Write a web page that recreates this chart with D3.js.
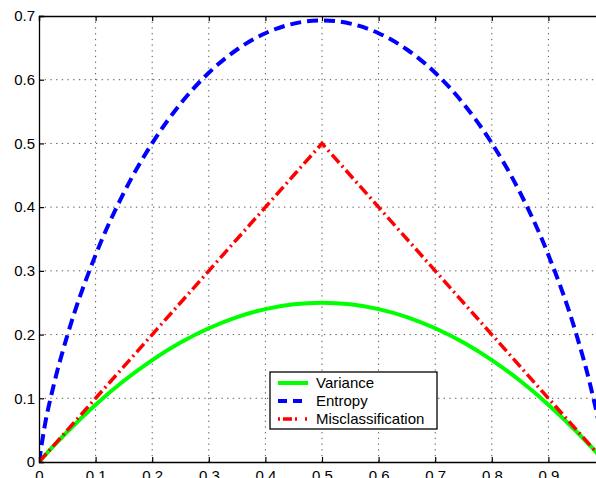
<!DOCTYPE html>
<html>
<head>
<meta charset="utf-8">
<script src="https://cdn.jsdelivr.net/npm/d3@7"></script>
<style>
  body { margin: 0; background: #fff; }
  svg { display: block; }
  text { font-family: "Liberation Sans", Arial, sans-serif; }
</style>
</head>
<body>
<div id="chart"></div>
<script>
// Sample points along p
const pValues = [0, 0.01, 0.025, 0.05, 0.1, 0.15, 0.2, 0.25, 0.3, 0.35, 0.4, 0.45, 0.5,
    0.55, 0.6, 0.65, 0.7, 0.75, 0.8, 0.85, 0.9, 0.95, 0.975, 0.99, 1];
const variance = [0, 0.0099, 0.0244, 0.0475, 0.09, 0.1275, 0.16, 0.1875, 0.21, 0.2275, 0.24, 0.2475, 0.25,
    0.2475, 0.24, 0.2275, 0.21, 0.1875, 0.16, 0.1275, 0.09, 0.0475, 0.0244, 0.0099, 0];
const entropy = [0, 0.056, 0.117, 0.1985, 0.325, 0.4227, 0.5004, 0.5623, 0.6109, 0.6474, 0.673, 0.6881, 0.6931,
    0.6881, 0.673, 0.6474, 0.6109, 0.5623, 0.5004, 0.4227, 0.325, 0.1985, 0.117, 0.056, 0];
const misclass = [0, 0.01, 0.025, 0.05, 0.1, 0.15, 0.2, 0.25, 0.3, 0.35, 0.4, 0.45, 0.5,
    0.45, 0.4, 0.35, 0.3, 0.25, 0.2, 0.15, 0.1, 0.05, 0.025, 0.01, 0];

const xTicks = [0, 0.1, 0.2, 0.3, 0.4, 0.5, 0.6, 0.7, 0.8, 0.9, 1];
const yTicks = [0, 0.1, 0.2, 0.3, 0.4, 0.5, 0.6, 0.7];
const seriesNames = ['Variance', 'Entropy', 'Misclassification'];

const width = 596, height = 478;
const plotLeft = 39, plotRight = 605, plotTop = 16, plotBottom = 462;

const svg = d3.select('#chart').append('svg')
    .attr('width', width)
    .attr('height', height);

const x = d3.scaleLinear().domain([0, 1]).range([plotLeft, plotRight]);
const y = d3.scaleLinear().domain([0, 0.7]).range([plotBottom, plotTop]);

// Grid
const grid = svg.append('g')
    .attr('stroke', '#555')
    .attr('stroke-width', 1)
    .attr('stroke-dasharray', '1.3,4.4');
grid.selectAll('.vg').data(xTicks.slice(1)).join('line')
    .attr('x1', d => x(d)).attr('x2', d => x(d))
    .attr('y1', plotTop).attr('y2', plotBottom);
grid.selectAll('.hg').data(yTicks.slice(1, -1)).join('line')
    .attr('x1', plotLeft).attr('x2', plotRight)
    .attr('y1', d => y(d)).attr('y2', d => y(d));

// Clip for lines
svg.append('defs').append('clipPath').attr('id', 'plot')
    .append('rect').attr('x', plotLeft).attr('y', plotTop - 3)
    .attr('width', plotRight - plotLeft).attr('height', plotBottom - plotTop + 3);

const lineGen = ys => d3.line()
    .x((d, i) => x(pValues[i]))
    .y((d, i) => y(ys[i]))
    .curve(d3.curveMonotoneX)(ys);

const lines = svg.append('g').attr('clip-path', 'url(#plot)').attr('fill', 'none');
lines.append('path')
    .attr('d', lineGen(variance))
    .attr('stroke', '#00ff00').attr('stroke-width', 4);
lines.append('path')
    .attr('d', lineGen(entropy))
    .attr('stroke', '#0000ff').attr('stroke-width', 4)
    .attr('stroke-dasharray', '11,6');
lines.append('path')
    .attr('d', d3.line().x((d, i) => x(pValues[i])).y((d, i) => y(misclass[i]))(misclass))
    .attr('stroke', '#ff0000').attr('stroke-width', 3.5)
    .attr('stroke-dasharray', '11,4,2,4');

// Axes (matlab style, ticks inside)
const fmt = d => d === 0 ? '0' : d3.format('.1f')(d);
const xAxis = d3.axisBottom(x).tickValues(xTicks).tickSize(-5).tickPadding(8).tickFormat(fmt);
const gx = svg.append('g').attr('transform', `translate(0,${plotBottom})`).call(xAxis);
const xTop = d3.axisTop(x).tickValues(xTicks).tickSize(-5).tickFormat('');
const gxt = svg.append('g').attr('transform', `translate(0,${plotTop})`).call(xTop);
const yAxis = d3.axisLeft(y).tickValues(yTicks).tickSize(-5).tickPadding(4).tickFormat(fmt);
const gy = svg.append('g').attr('transform', `translate(${plotLeft},0)`).call(yAxis);

[gx, gxt, gy].forEach(g => {
    g.select('.domain').attr('stroke', '#000').attr('stroke-width', 1.3);
    g.selectAll('.tick line').attr('stroke', '#000').attr('stroke-width', 1.2);
    g.selectAll('.tick text').attr('fill', '#000').attr('font-size', 15)
        .attr('font-family', '"Liberation Sans", Arial, sans-serif');
});

// Legend
const legend = svg.append('g').attr('transform', 'translate(270,372)');
legend.append('rect')
    .attr('width', 167).attr('height', 57)
    .attr('fill', '#fff').attr('stroke', '#000').attr('stroke-width', 1.3);
const styles = [
    { color: '#00ff00', w: 4, dash: null },
    { color: '#0000ff', w: 4, dash: '9,6' },
    { color: '#ff0000', w: 3.5, dash: '2,3,9,3,2,8' }
];
seriesNames.forEach((name, i) => {
    const row = legend.append('g').attr('transform', `translate(0,${11 + i * 18})`);
    row.append('line')
        .attr('x1', 8).attr('x2', 38).attr('y1', 0).attr('y2', 0)
        .attr('stroke', styles[i].color).attr('stroke-width', styles[i].w)
        .attr('stroke-dasharray', styles[i].dash);
    row.append('text')
        .attr('x', 46).attr('y', 5)
        .attr('font-size', 15)
        .text(name);
});
</script>
</body>
</html>
